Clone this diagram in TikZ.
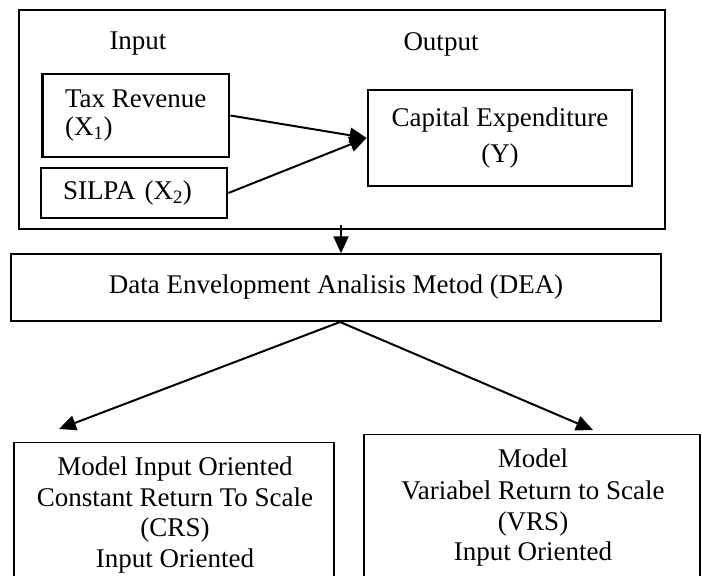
\documentclass[tikz,border=0pt]{standalone}
\usepackage{fontspec}
\setmainfont{Liberation Serif}
\usetikzlibrary{arrows.meta,calc}
\begin{document}
\begin{tikzpicture}[x=1pt,y=-1pt,
  font=\fontsize{27}{31}\selectfont,
  thinbox/.style={draw, line width=1.4pt, inner sep=0pt},
  thickbox/.style={draw, line width=2.8pt, inner sep=0pt},
  conn/.style={line width=2pt, -{Triangle[length=17pt,width=15pt]}}]
\useasboundingbox (0,0) rectangle (702,576);
\clip (0,0) rectangle (702,576);

% variables block
\node[thinbox, minimum width=646pt, minimum height=219pt] (outer) at (342,119.5) {};
\node (inlabel) at (138,44) {Input};
\node (outlabel) at (441,44) {Output};
\node[thickbox, minimum width=186.5pt, minimum height=83pt, align=left,
      font=\fontsize{27}{28}\selectfont] (tax) at (135.75,115.5)
      {Tax Revenue\\(X\textsubscript{1})};
\node[thickbox, minimum width=186pt, minimum height=50pt, text width=142pt,
      align=left] (silpa) at (134,193) {SILPA (X\textsubscript{2})};
\node[thickbox, minimum width=264pt, minimum height=96pt, align=center,
      font=\fontsize{27}{36}\selectfont] (capital) at (500,138)
      {Capital Expenditure\\(Y)};

% method
\node[thinbox, minimum width=650pt, minimum height=67pt] (dea) at (336,287.5)
      {Data Envelopment Analisis Metod (DEA)};

% models
\node[thinbox, minimum width=320pt, minimum height=200pt, anchor=north] (crs) at (174,442) {};
\node[align=center, font=\fontsize{27}{30.7}\selectfont] (crstext) at (175,515)
      {Model Input Oriented\\Constant Return To Scale\\(CRS)\\Input Oriented};
\node[thinbox, minimum width=336pt, minimum height=200pt, anchor=north] (vrs) at (532,434) {};
\node[align=center, font=\fontsize{27}{31}\selectfont] (vrstext) at (533,508)
      {Model\\Variabel Return to Scale\\(VRS)\\Input Oriented};

% connectors
\draw[conn] (tax.east) -- (capital.west);
\draw[conn] (silpa.east) -- (capital.west);
\coordinate (drop) at ($(outer.south)+(-1,-5)$);
\draw[conn] (drop) -- (drop |- dea.north);
\coordinate (split) at (340,322);
\coordinate (crsin) at (59,429);
\coordinate (vrsin) at (593,430);
\draw[conn] (split) -- (crsin);
\draw[conn] (split) -- (vrsin);
\end{tikzpicture}
\end{document}
